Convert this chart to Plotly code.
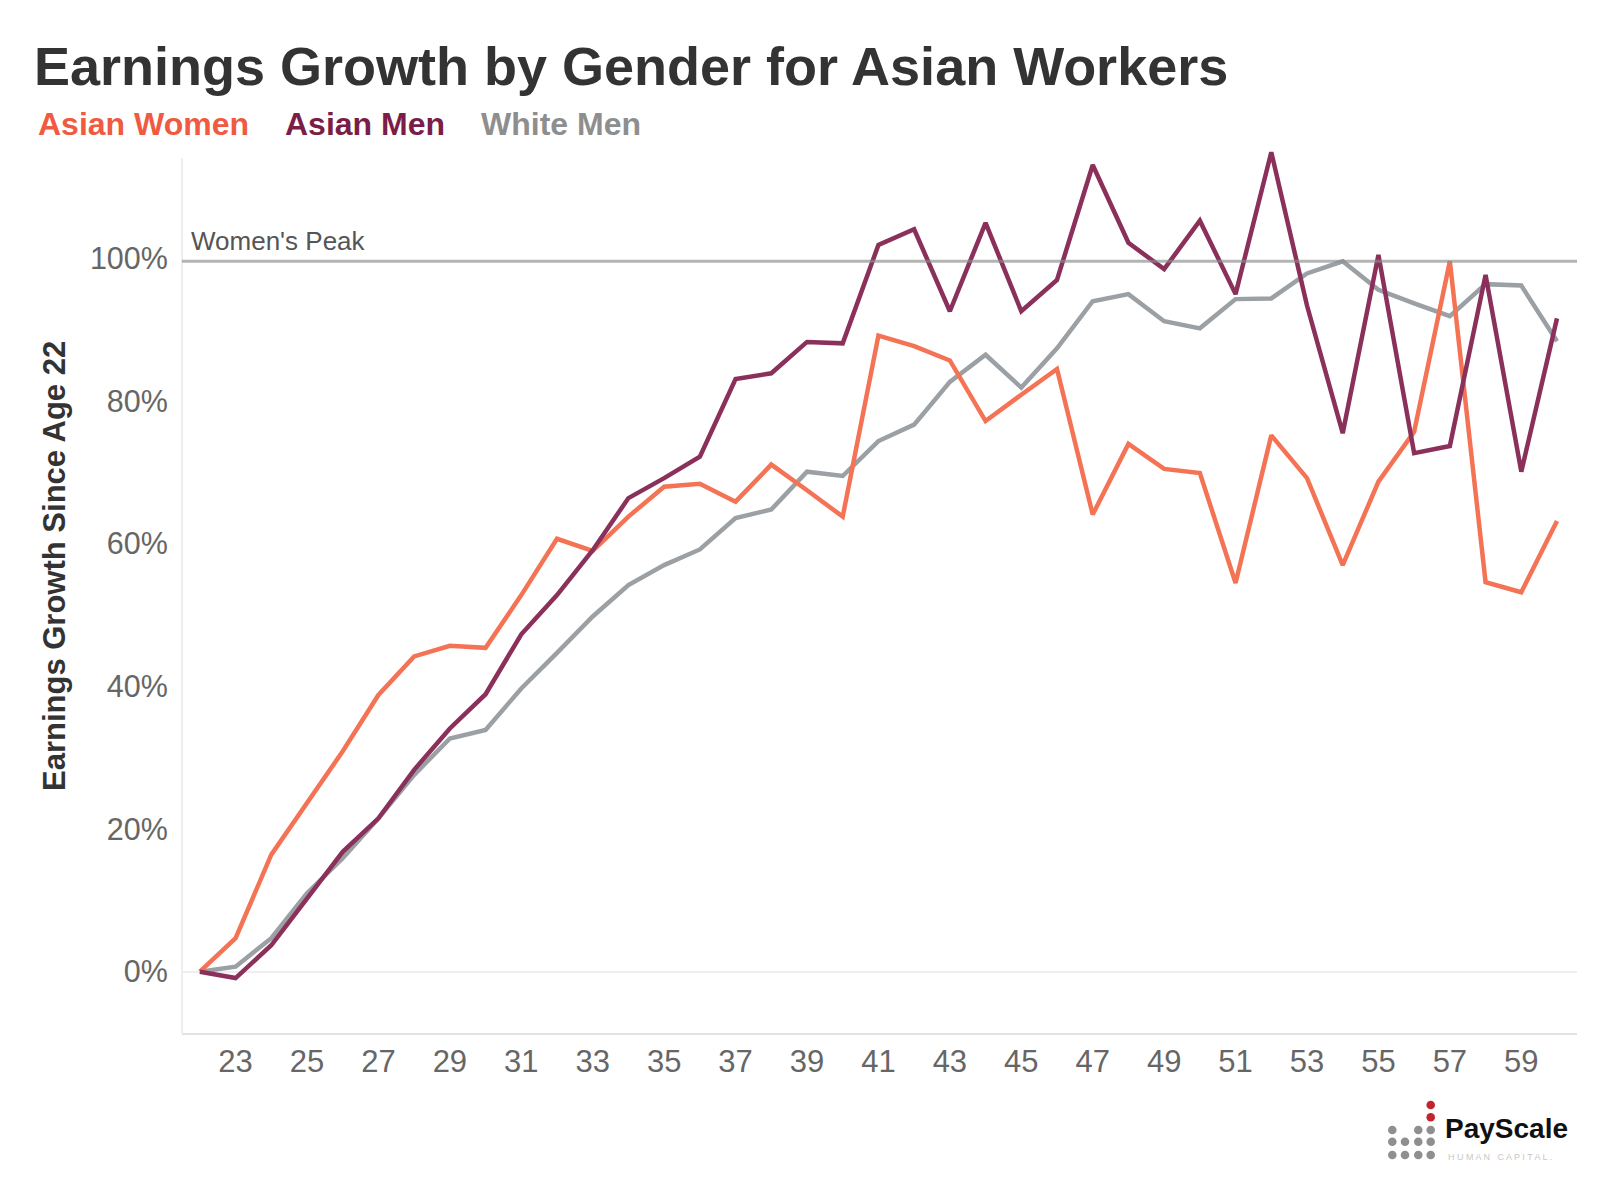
import plotly.graph_objects as go

ages = list(range(22, 61))
asian_women = [0, 4.7, 16.4, 23.6, 30.9, 38.8, 44.2, 45.7, 45.4, 52.8, 60.7, 59.0, 63.8, 68.0, 68.4,
               65.9, 71.1, 67.5, 63.8, 89.2, 87.7, 85.7, 77.2, 80.9, 84.5, 64.1, 74.0, 70.5, 69.9,
               54.5, 75.2, 69.2, 57.0, 68.7, 75.7, 99.6, 54.6, 53.2, 63.2]
asian_men = [0, -0.9, 3.7, 10.3, 16.8, 21.5, 28.3, 34.1, 38.9, 47.3, 52.8, 59.1, 66.4, 69.2, 72.2,
             83.1, 83.9, 88.3, 88.1, 101.9, 104.1, 92.6, 105.0, 92.6, 97.0, 113.1, 102.2, 98.5, 105.3,
             95.0, 114.9, 93.4, 75.5, 100.5, 72.7, 73.7, 97.7, 70.1, 91.6]
white_men = [0, 0.7, 4.7, 11.0, 15.9, 21.5, 27.6, 32.7, 33.9, 39.7, 44.7, 49.8, 54.2, 57.0, 59.2,
             63.6, 64.8, 70.1, 69.5, 74.4, 76.7, 82.7, 86.5, 81.9, 87.4, 94.0, 95.0, 91.2, 90.2,
             94.3, 94.4, 97.9, 99.6, 95.6, 93.7, 91.9, 96.4, 96.2, 88.4]
x_ticks = list(range(23, 60, 2))
y_ticks = [0, 20, 40, 60, 80, 100]
y_tick_labels = [f"{v}%" for v in y_ticks]

series_names = ["White Men", "Asian Women", "Asian Men"]
line_colors = {"Asian Women": "#F47355", "Asian Men": "#8B305A", "White Men": "#9BA0A5"}
label_colors = {"Asian Women": "#F05A40", "Asian Men": "#7A1E48", "White Men": "#8E8E8E"}
series_data = {"Asian Women": asian_women, "Asian Men": asian_men, "White Men": white_men}

FONT = "Arial, 'Liberation Sans', Helvetica, sans-serif"

# page body margin of 8px is compensated: figure coords = page coords - 8
OFF = 8
W, H = 1600 - 2 * OFF, 1200 - 2 * OFF
PLOT_L, PLOT_R, PLOT_T, PLOT_B = 182, 1577, 146, 1033   # page pixel coords
ML, MT = PLOT_L - OFF, PLOT_T - OFF
MR = W - (PLOT_R - OFF)
MB = H - (PLOT_B - OFF)
PW, PH = W - ML - MR, H - MT - MB


def px(x):
    return (x - OFF - ML) / PW


def py(y):
    return (H - MB - (y - OFF)) / PH


fig = go.Figure()
for name in series_names:
    fig.add_trace(go.Scatter(x=ages, y=series_data[name], mode="lines", name=name,
                             line=dict(color=line_colors[name], width=4.5), showlegend=False,
                             hoverinfo="x+y+name"))

peak = max(asian_women)

shapes = [
    # left axis line (shorter than the plot area, as in the original)
    dict(type="line", xref="paper", yref="paper", x0=0, x1=0, y0=0, y1=py(158),
         line=dict(color="#e8e8e8", width=1.5), layer="below"),
    dict(type="line", xref="paper", yref="y", x0=0, x1=1, y0=peak, y1=peak,
         line=dict(color="rgba(140,140,140,0.65)", width=3), layer="above"),
]

# PayScale logo dots
dot_cols = [1392.3, 1405.0, 1418.3, 1430.7]
dot_rows = [1130.0, 1141.7, 1155.0]
r = 4.3
for ri, yy in enumerate(dot_rows):
    for ci, xx in enumerate(dot_cols):
        if ri == 0 and ci == 1:
            continue
        shapes.append(dict(type="circle", xref="paper", yref="paper",
                           x0=px(xx - r), x1=px(xx + r), y0=py(yy + r), y1=py(yy - r),
                           fillcolor="#8f8f8f", line=dict(width=0), layer="above"))
for yy in [1105.0, 1117.3]:
    xx = dot_cols[-1]
    shapes.append(dict(type="circle", xref="paper", yref="paper",
                       x0=px(xx - r), x1=px(xx + r), y0=py(yy + r), y1=py(yy - r),
                       fillcolor="#C0272D", line=dict(width=0), layer="above"))

annotations = [
    dict(text="Women's Peak", xref="paper", yref="y", x=px(189), y=peak, xanchor="left",
         yanchor="bottom", yshift=3, showarrow=False,
         font=dict(family=FONT, size=26, color="#555555")),
    dict(text="<b>Earnings Growth Since Age 22</b>", xref="paper", yref="paper",
         x=px(54), y=py(566), xanchor="center", yanchor="middle", textangle=-90,
         showarrow=False, font=dict(family=FONT, size=31, color="#333333")),
    dict(text="<b>PayScale</b>", xref="paper", yref="paper", x=px(1443), y=py(1128),
         xanchor="left", yanchor="middle", showarrow=False,
         font=dict(family=FONT, size=28, color="#111111")),
    dict(text="H U M A N  &nbsp;C A P I T A L .", xref="paper", yref="paper", x=px(1446),
         y=py(1157), xanchor="left", yanchor="middle", showarrow=False,
         font=dict(family=FONT, size=9, color="#c8c8c8")),
]
legend_pos = {"Asian Women": 36, "Asian Men": 283, "White Men": 479}
for name in ["Asian Women", "Asian Men", "White Men"]:
    annotations.append(dict(text=f"<b>{name}</b>", xref="paper", yref="paper",
                            x=px(legend_pos[name]), y=py(124.5), xanchor="left", yanchor="middle",
                            showarrow=False,
                            font=dict(family=FONT, size=32, color=label_colors[name])))

fig.update_layout(
    width=W, height=H,
    margin=dict(l=ML, r=MR, t=MT, b=MB),
    paper_bgcolor="white", plot_bgcolor="white",
    title=dict(text="<b>Earnings Growth by Gender for Asian Workers</b>",
               xref="container", yref="container", x=(34 - OFF) / W, y=1 - (66 - OFF) / H,
               xanchor="left", yanchor="middle",
               font=dict(family=FONT, size=54, color="#333333")),
    xaxis=dict(range=[21.5, 60.56], tickmode="array", tickvals=x_ticks, showgrid=False,
               zeroline=False, showline=True, linecolor="#e2e2e2", linewidth=2,
               ticks="",
               tickfont=dict(family=FONT, size=31, color="#666666")),
    yaxis=dict(range=[-8.6, 115.77], tickmode="array", tickvals=y_ticks, ticktext=y_tick_labels,
               showgrid=False, zeroline=True, zerolinecolor="#eeeeee", zerolinewidth=2,
               showline=False,
               ticks="outside", ticklen=7, tickcolor="rgba(0,0,0,0)",
               tickfont=dict(family=FONT, size=30.5, color="#666666")),
    shapes=shapes,
    annotations=annotations,
    showlegend=False,
)

fig.write_html("out.html")
